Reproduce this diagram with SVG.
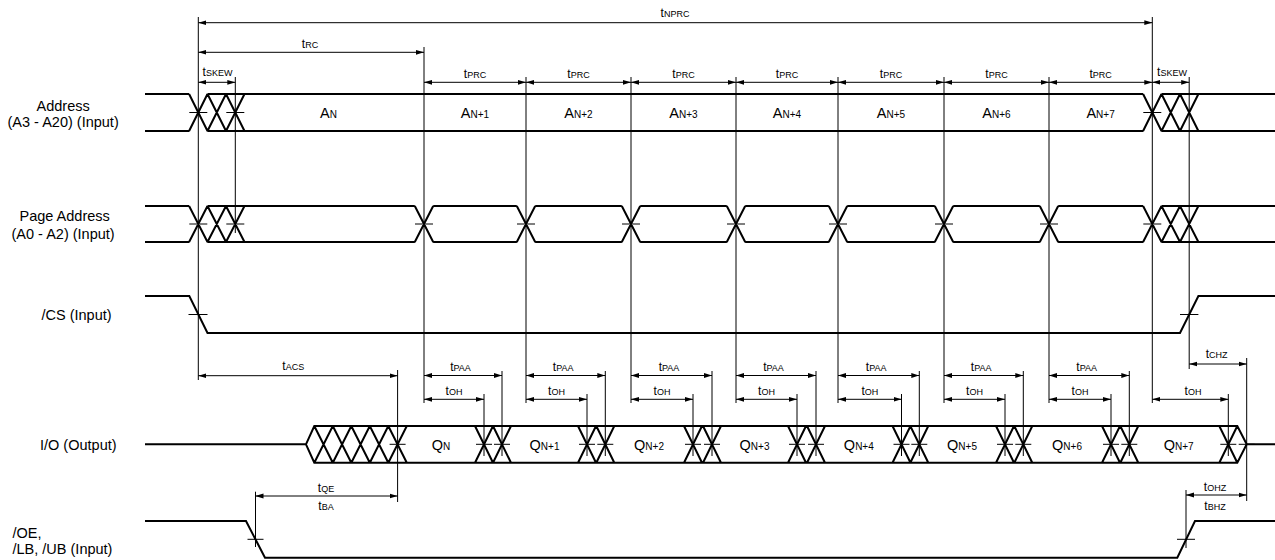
<svg xmlns="http://www.w3.org/2000/svg" width="1275" height="560" viewBox="0 0 1275 560">
<style>
text{font-family:"Liberation Sans",Arial,sans-serif;fill:#000}
.nm{font-size:14.5px}
.t{font-size:12px;text-anchor:middle}
.s{font-size:9px}
.b{font-size:14.5px;text-anchor:middle}
.bs{font-size:10px}
.sig{fill:none;stroke:#000;stroke-width:2;stroke-linejoin:miter}
.thin{fill:none;stroke:#000;stroke-width:1}
.dim{stroke:#000;stroke-width:1;marker-start:url(#ah);marker-end:url(#ah)}
</style>
<defs>
<marker id="ah" viewBox="0 0 8 6" refX="8" refY="3" markerWidth="8" markerHeight="6" markerUnits="userSpaceOnUse" orient="auto-start-reverse"><path d="M0,0.6 L8,3 L0,5.4 z" fill="#000"/></marker>
</defs>
<rect width="1275" height="560" fill="#fff"/>

<g id="label-address"><text class="nm" x="36.5" y="110.5">Address</text><text class="nm" x="7.5" y="127">(A3 - A20) (Input)</text></g>
<g id="label-page"><text class="nm" x="19.5" y="221">Page Address</text><text class="nm" x="11.5" y="239">(A0 - A2) (Input)</text></g>
<g id="label-cs"><text class="nm" x="41.5" y="320">/CS (Input)</text></g>
<g id="label-io"><text class="nm" x="40" y="449.5">I/O (Output)</text></g>
<g id="label-oe"><text class="nm" x="12.5" y="537.5">/OE,</text><text class="nm" x="12.5" y="554">/LB, /UB (Input)</text></g>

<g id="sig-address">
<path class="sig" d="M145,94 H189.1 M145,131 H189.1 M207.5,94 H1143.1 M207.5,131 H1143.1 M1161.5,94 H1275 M1161.5,131 H1275
M189.1,94 L207.5,131 M189.1,131 L207.5,94 M207.5,94 L226,131 M207.5,131 L226,94 M226,94 L244.5,131 M226,131 L244.5,94
M1143.1,94 L1161.5,131 M1143.1,131 L1161.5,94 M1161.5,94 L1180,131 M1161.5,131 L1180,94 M1180,94 L1198.4,131 M1180,131 L1198.4,94"/>
<path class="thin" d="M189.3,112.5 H207.3 M226.3,112.5 H244.3 M1143.3,112.5 H1161.3"/>
<text class="b" x="328.5" y="118.3">A<tspan class="bs">N</tspan></text>
<text class="b" x="475" y="118.3">A<tspan class="bs">N+1</tspan></text>
<text class="b" x="578.5" y="118.3">A<tspan class="bs">N+2</tspan></text>
<text class="b" x="683.5" y="118.3">A<tspan class="bs">N+3</tspan></text>
<text class="b" x="787" y="118.3">A<tspan class="bs">N+4</tspan></text>
<text class="b" x="891" y="118.3">A<tspan class="bs">N+5</tspan></text>
<text class="b" x="996.5" y="118.3">A<tspan class="bs">N+6</tspan></text>
<text class="b" x="1100.6" y="118.3">A<tspan class="bs">N+7</tspan></text>
</g>

<g id="sig-page">
<path class="sig" d="M145,206 H189.1 M145,242 H189.1
M207.5,206 H414.8 M207.5,242 H414.8 M433.2,206 H516.8 M433.2,242 H516.8 M535.2,206 H621.8 M535.2,242 H621.8
M640.2,206 H726.8 M640.2,242 H726.8 M745.2,206 H828.8 M745.2,242 H828.8 M847.2,206 H934.8 M847.2,242 H934.8
M953.2,206 H1039.8 M953.2,242 H1039.8 M1058.2,206 H1143.1 M1058.2,242 H1143.1 M1161.5,206 H1275 M1161.5,242 H1275
M189.1,206 L207.5,242 M189.1,242 L207.5,206 M207.5,206 L226,242 M207.5,242 L226,206 M226,206 L244.5,242 M226,242 L244.5,206
M414.8,206 L433.2,242 M414.8,242 L433.2,206 M516.8,206 L535.2,242 M516.8,242 L535.2,206 M621.8,206 L640.2,242 M621.8,242 L640.2,206
M726.8,206 L745.2,242 M726.8,242 L745.2,206 M828.8,206 L847.2,242 M828.8,242 L847.2,206 M934.8,206 L953.2,242 M934.8,242 L953.2,206
M1039.8,206 L1058.2,242 M1039.8,242 L1058.2,206
M1143.1,206 L1161.5,242 M1143.1,242 L1161.5,206 M1161.5,206 L1180,242 M1161.5,242 L1180,206 M1180,206 L1198.4,242 M1180,242 L1198.4,206"/>
<path class="thin" d="M189.3,224 H207.3 M226.3,224 H244.3 M415,224 H433 M517,224 H535 M622,224 H640 M727,224 H745 M829,224 H847 M935,224 H953 M1040,224 H1058 M1143.3,224 H1161.3"/>
</g>

<g id="sig-cs">
<path class="sig" d="M145,296 H189.3 L207.5,333 H1180 L1198.4,296 H1275"/>
<path class="thin" d="M188.5,314.5 H207.5 M1180,314.5 H1198.4"/>
</g>

<g id="sig-io">
<path class="sig" d="M145,444.3 H306 L314.3,426 H1237.3 L1246.7,444.3 H1275 M306,444.3 L314.3,462.7 H1237.3 L1246.7,444.3
M314.3,426 L332.8,462.7 M314.3,462.7 L332.8,426 M332.8,426 L351.3,462.7 M332.8,462.7 L351.3,426 M351.3,426 L369.8,462.7 M351.3,462.7 L369.8,426
M369.8,426 L388.3,462.7 M369.8,462.7 L388.3,426 M388.3,426 L406.8,462.7 M388.3,462.7 L406.8,426
M475,426 L493,462.7 M475,462.7 L493,426 M493,426 L511,462.7 M493,462.7 L511,426
M578,426 L596,462.7 M578,462.7 L596,426 M596.3,426 L614.3,462.7 M596.3,462.7 L614.3,426
M684,426 L702,462.7 M684,462.7 L702,426 M703,426 L721,462.7 M703,462.7 L721,426
M788,426 L806,462.7 M788,462.7 L806,426 M807,426 L825,462.7 M807,462.7 L825,426
M892.5,426 L910.5,462.7 M892.5,462.7 L910.5,426 M910.3,426 L928.3,462.7 M910.3,462.7 L928.3,426
M996,426 L1014,462.7 M996,462.7 L1014,426 M1014.3,426 L1032.3,462.7 M1014.3,462.7 L1032.3,426
M1102,426 L1120,462.7 M1102,462.7 L1120,426 M1120.3,426 L1138.3,462.7 M1120.3,462.7 L1138.3,426
M1219.3,426 L1237.3,462.7 M1219.3,462.7 L1237.3,426"/>
<path class="thin" d="M389.6,444.3 H405.6 M476,444.3 H492 M494,444.3 H510 M579,444.3 H595 M597.3,444.3 H613.3 M685,444.3 H701 M704,444.3 H720
M789,444.3 H805 M808,444.3 H824 M893.5,444.3 H909.5 M911.3,444.3 H927.3 M997,444.3 H1013 M1015.3,444.3 H1031.3 M1103,444.3 H1119 M1121.3,444.3 H1137.3
M1220.3,444.3 H1236.3 M1238.7,444.3 H1254.7"/>
<text class="b" x="441" y="449.5">Q<tspan class="bs">N</tspan></text>
<text class="b" x="544.5" y="449.5">Q<tspan class="bs">N+1</tspan></text>
<text class="b" x="649" y="449.5">Q<tspan class="bs">N+2</tspan></text>
<text class="b" x="754.5" y="449.5">Q<tspan class="bs">N+3</tspan></text>
<text class="b" x="858.8" y="449.5">Q<tspan class="bs">N+4</tspan></text>
<text class="b" x="962" y="449.5">Q<tspan class="bs">N+5</tspan></text>
<text class="b" x="1067" y="449.5">Q<tspan class="bs">N+6</tspan></text>
<text class="b" x="1178.6" y="449.5">Q<tspan class="bs">N+7</tspan></text>
</g>

<g id="sig-oe">
<path class="sig" d="M145,521 H246 L265,557.7 H1177.3 L1195,521 H1275"/>
<path class="thin" d="M247.5,539.3 H263.5 M1177,539.3 H1195"/>
</g>

<g id="connectors">
<path class="thin" d="M198.3,17 V380 M235.3,77 V233 M424,47 V403 M526,77 V403 M631,77 V403 M736,77 V403 M838,77 V403 M944,77 V403 M1049,77 V403
M1152.3,17 V403 M1189.2,77 V369 M397.6,370 V502
M484,394 V456 M587,394 V456 M693,394 V456 M797,394 V456 M901.5,394 V456 M1005,394 V456 M1111,394 V456 M1228.3,394 V456
M502,371 V456 M605.3,371 V456 M712,371 V456 M816,371 V456 M919.3,371 V456 M1023.3,371 V456 M1129.3,371 V456
M1246.7,358 V501 M255.5,491.7 V547 M1186,490 V548"/>
<line class="dim" x1="198.3" y1="22.7" x2="1152.3" y2="22.7"/>
<line class="dim" x1="198.3" y1="52.3" x2="424" y2="52.3"/>
<line class="dim" x1="198.3" y1="82.3" x2="235.3" y2="82.3"/>
<line class="dim" x1="424" y1="82.3" x2="526" y2="82.3"/>
<line class="dim" x1="526" y1="82.3" x2="631" y2="82.3"/>
<line class="dim" x1="631" y1="82.3" x2="736" y2="82.3"/>
<line class="dim" x1="736" y1="82.3" x2="838" y2="82.3"/>
<line class="dim" x1="838" y1="82.3" x2="944" y2="82.3"/>
<line class="dim" x1="944" y1="82.3" x2="1049" y2="82.3"/>
<line class="dim" x1="1049" y1="82.3" x2="1152.3" y2="82.3"/>
<line class="dim" x1="1152.3" y1="82.3" x2="1189.2" y2="82.3"/>
<line class="dim" x1="198.3" y1="375.7" x2="397.6" y2="375.7"/>
<line class="dim" x1="424" y1="375.5" x2="502" y2="375.5"/>
<line class="dim" x1="526" y1="375.5" x2="605.3" y2="375.5"/>
<line class="dim" x1="631" y1="375.5" x2="712" y2="375.5"/>
<line class="dim" x1="736" y1="375.5" x2="816" y2="375.5"/>
<line class="dim" x1="838" y1="375.5" x2="919.3" y2="375.5"/>
<line class="dim" x1="944" y1="375.5" x2="1023.3" y2="375.5"/>
<line class="dim" x1="1049" y1="375.5" x2="1129.3" y2="375.5"/>
<line class="dim" x1="424" y1="399.3" x2="484" y2="399.3"/>
<line class="dim" x1="526" y1="399.3" x2="587" y2="399.3"/>
<line class="dim" x1="631" y1="399.3" x2="693" y2="399.3"/>
<line class="dim" x1="736" y1="399.3" x2="797" y2="399.3"/>
<line class="dim" x1="838" y1="399.3" x2="901.5" y2="399.3"/>
<line class="dim" x1="944" y1="399.3" x2="1005" y2="399.3"/>
<line class="dim" x1="1049" y1="399.3" x2="1111" y2="399.3"/>
<line class="dim" x1="1152.3" y1="399.3" x2="1228.3" y2="399.3"/>
<line class="dim" x1="1189.2" y1="364" x2="1246.7" y2="364"/>
<line class="dim" x1="255.5" y1="496" x2="397.6" y2="496"/>
<line class="dim" x1="1186" y1="495" x2="1246.7" y2="495"/>

<text class="t" x="675" y="17.3">t<tspan class="s">NPRC</tspan></text>
<text class="t" x="310" y="48.3">t<tspan class="s">RC</tspan></text>
<text class="t" x="217.5" y="76.3">t<tspan class="s">SKEW</tspan></text>
<text class="t" x="1172" y="76.3">t<tspan class="s">SKEW</tspan></text>
<text class="t" x="475" y="78.3">t<tspan class="s">PRC</tspan></text>
<text class="t" x="578.5" y="78.3">t<tspan class="s">PRC</tspan></text>
<text class="t" x="683.5" y="78.3">t<tspan class="s">PRC</tspan></text>
<text class="t" x="787" y="78.3">t<tspan class="s">PRC</tspan></text>
<text class="t" x="891" y="78.3">t<tspan class="s">PRC</tspan></text>
<text class="t" x="996.5" y="78.3">t<tspan class="s">PRC</tspan></text>
<text class="t" x="1100.6" y="78.3">t<tspan class="s">PRC</tspan></text>
<text class="t" x="293.3" y="370">t<tspan class="s">ACS</tspan></text>
<text class="t" x="460.5" y="370.5">t<tspan class="s">PAA</tspan></text>
<text class="t" x="563.2" y="370.5">t<tspan class="s">PAA</tspan></text>
<text class="t" x="669" y="370.5">t<tspan class="s">PAA</tspan></text>
<text class="t" x="773.5" y="370.5">t<tspan class="s">PAA</tspan></text>
<text class="t" x="876.2" y="370.5">t<tspan class="s">PAA</tspan></text>
<text class="t" x="981.2" y="370.5">t<tspan class="s">PAA</tspan></text>
<text class="t" x="1086.7" y="370.5">t<tspan class="s">PAA</tspan></text>
<text class="t" x="454" y="395">t<tspan class="s">OH</tspan></text>
<text class="t" x="556.5" y="395">t<tspan class="s">OH</tspan></text>
<text class="t" x="662" y="395">t<tspan class="s">OH</tspan></text>
<text class="t" x="766.5" y="395">t<tspan class="s">OH</tspan></text>
<text class="t" x="869.8" y="395">t<tspan class="s">OH</tspan></text>
<text class="t" x="974.5" y="395">t<tspan class="s">OH</tspan></text>
<text class="t" x="1080" y="395">t<tspan class="s">OH</tspan></text>
<text class="t" x="1193" y="395">t<tspan class="s">OH</tspan></text>
<text class="t" x="1216.7" y="358.3">t<tspan class="s">CHZ</tspan></text>
<text class="t" x="326" y="491.5">t<tspan class="s">QE</tspan></text>
<text class="t" x="326" y="509.7">t<tspan class="s">BA</tspan></text>
<text class="t" x="1215" y="490.5">t<tspan class="s">OHZ</tspan></text>
<text class="t" x="1215" y="510">t<tspan class="s">BHZ</tspan></text>
</g>
</svg>
